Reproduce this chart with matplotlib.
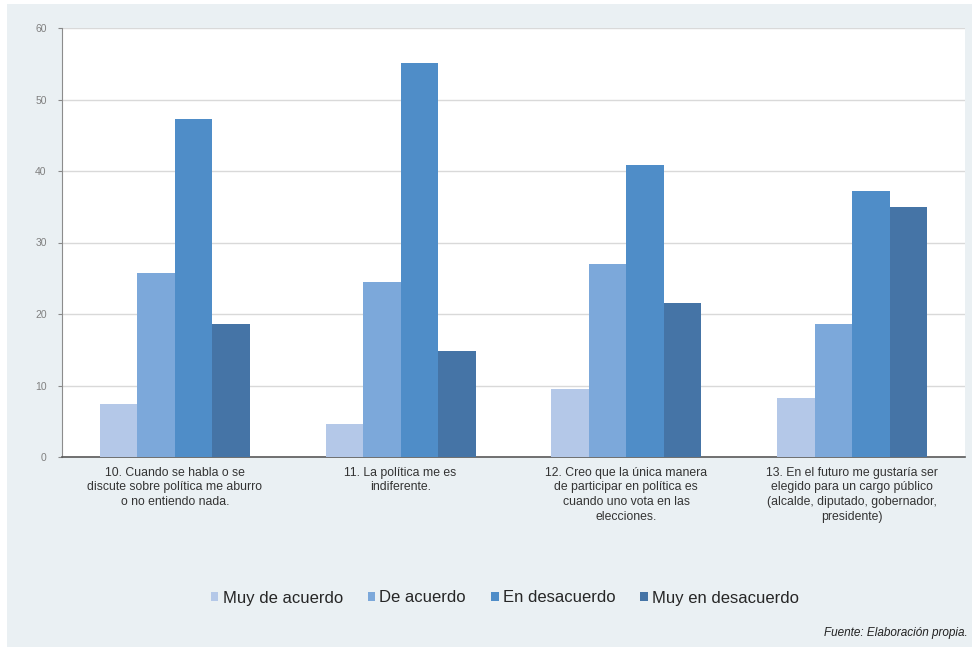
#!/usr/bin/env python3
"""
Actitudes hacia la política: respuestas por ítem (%), barras agrupadas.
"""

import numpy as np
import matplotlib
matplotlib.use("Agg")
import matplotlib.pyplot as plt
from matplotlib.patches import Rectangle

# === DATA ===
ITEMS = [
    "10. Cuando se habla o se\ndiscute sobre política me aburro\no no entiendo nada.",
    "11. La política me es\nindiferente.",
    "12. Creo que la única manera\nde participar en política es\ncuando uno vota en las\nelecciones.",
    "13. En el futuro me gustaría ser\nelegido para un cargo público\n(alcalde, diputado, gobernador,\npresidente)",
]
SERIES = ["Muy de acuerdo", "De acuerdo", "En desacuerdo", "Muy en desacuerdo"]
muy_de_acuerdo = [7.4, 4.6, 9.5, 8.3]
de_acuerdo = [25.7, 24.5, 27.0, 18.6]
en_desacuerdo = [47.3, 55.1, 40.8, 37.2]
muy_en_desacuerdo = [18.6, 14.8, 21.5, 35.0]
Y_TICKS = [0, 10, 20, 30, 40, 50, 60]

# === STYLE ===
COLORS = ["#b4c8e8", "#7ca8da", "#4f8dc8", "#4574a6"]
PANEL = "#eaf0f3"
W, H = 979, 647


def main():
    fig = plt.figure(figsize=(W / 100, H / 100), dpi=100)
    fig.patch.set_facecolor("white")
    plt.rcParams["font.family"] = ["Liberation Sans", "DejaVu Sans"]

    # light panel behind the chart (kept under the axes)
    fig.patches.append(Rectangle((7 / W, 0), (972 - 7) / W, 1 - 4 / H,
                                 transform=fig.transFigure, facecolor=PANEL,
                                 edgecolor="none", zorder=-10))

    ax = fig.add_axes([62 / W, 1 - 457 / H, (965 - 62) / W, (457 - 28) / H])
    ax.set_facecolor("white")

    values = [muy_de_acuerdo, de_acuerdo, en_desacuerdo, muy_en_desacuerdo]
    x = np.arange(len(ITEMS))
    width = 0.166
    for i, (name, vals) in enumerate(zip(SERIES, values)):
        offset = (i - 1.5) * width
        ax.bar(x + offset, vals, width, color=COLORS[i], label=name, zorder=3)

    ax.set_xlim(-0.5, len(ITEMS) - 0.5)
    ax.set_ylim(0, 60)
    ax.set_yticks(Y_TICKS)
    ax.set_xticks(x)
    ax.set_xticklabels(ITEMS, fontsize=8.8, color="#333333", linespacing=1.3)
    ax.tick_params(axis="x", length=0, pad=7)
    ax.tick_params(axis="y", length=3, colors="#888888", labelsize=7.5,
                   labelcolor="#808080", pad=8)

    ax.grid(axis="y", color="#d9d9d9", linewidth=1, zorder=0)
    for side in ["top", "right"]:
        ax.spines[side].set_visible(False)
    ax.spines["left"].set_color("#8c8c8c")
    ax.spines["bottom"].set_color("#595959")
    ax.spines["bottom"].set_linewidth(1.2)

    leg = fig.legend(loc="center", bbox_to_anchor=(505 / W, 1 - 598 / H),
                     ncol=4, frameon=False, fontsize=12, handlelength=0.45,
                     handleheight=0.45, handletextpad=0.25, columnspacing=1.5)
    for t in leg.get_texts():
        t.set_color("#262626")

    fig.text(968 / W, 1 - 633 / H, "Fuente: Elaboración propia.", ha="right",
             va="center", fontsize=8.5, style="italic", color="#222222")

    fig.savefig("out.png", dpi=100, facecolor=fig.get_facecolor())
    plt.close(fig)


if __name__ == "__main__":
    main()
